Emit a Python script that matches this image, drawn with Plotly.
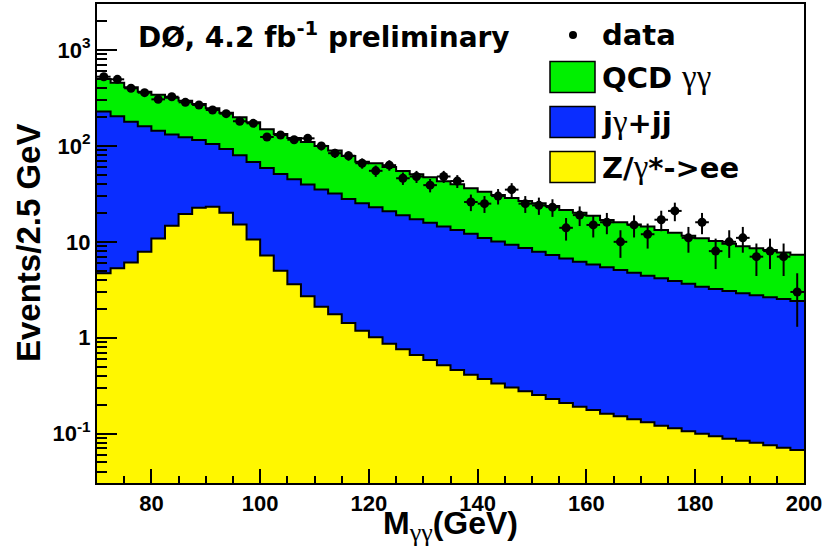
import numpy as np
import plotly.graph_objects as go

# ---- data ----
bin_lo = 70.0
bin_w = 2.5
n_bins = 52

data_counts = [527, 495, 399, 359, 306, 326, 285, 267, 237, 217, 181, 172, 124, 130, 116, 120,
               100, 84, 79, 66, 55, 63, 46, 48, 39, 48, 43, 26, 25, 30, 35, 25, 24, 23, 14, 19,
               15, 16, 10, 15, 12, 17, 21, 11, 16, 8, 10, 11, 7, 8, 7, 3]
data_err = [23.0, 22.2, 20.0, 18.9, 17.5, 18.1, 16.9, 16.3, 15.4, 14.7, 13.5, 13.1, 11.1, 11.4,
            10.8, 11.0, 10.0, 9.2, 8.9, 8.1, 7.4, 7.9, 6.8, 6.9, 6.2, 6.9, 6.6, 5.1, 5.0, 5.5,
            5.9, 5.0, 4.9, 4.8, 3.7, 4.4, 3.9, 4.0, 3.2, 3.9, 3.5, 4.1, 4.6, 3.3, 4.0, 2.8, 3.2,
            3.3, 2.6, 2.8, 2.6, 1.7]

z_ee = [4.7, 5.3, 6.1, 7.9, 10.8, 14.7, 19.5, 22.7, 23.2, 20.1, 15.2, 10.6, 7.2, 5.0, 3.6, 2.7,
        2.1, 1.76, 1.42, 1.18, 1.01, 0.865, 0.756, 0.660, 0.585, 0.515, 0.460, 0.411, 0.371,
        0.334, 0.303, 0.276, 0.252, 0.230, 0.209, 0.191, 0.176, 0.161, 0.152, 0.141, 0.131,
        0.121, 0.114, 0.106, 0.0998, 0.0937, 0.0885, 0.0843, 0.0804, 0.0755, 0.0713, 0.0675]

jg_jj = [223.3, 198.7, 172.9, 152.1, 133.2, 116.8, 103.5, 92.3, 81.8, 72.9, 64.8, 57.4, 51.8,
         46.0, 41.4, 36.9, 33.1, 30.1, 26.5, 24.0, 21.9, 20.0, 18.2, 16.5, 15.2, 13.9, 12.8,
         11.7, 10.6, 9.77, 9.00, 8.32, 7.65, 7.07, 6.51, 6.01, 5.64, 5.26, 4.93, 4.62, 4.30,
         4.04, 3.79, 3.55, 3.30, 3.13, 2.98, 2.82, 2.69, 2.56, 2.46, 2.35]

qcd_gg = [271, 252, 229, 207, 198, 186.5, 173, 158, 142, 129, 119, 109, 90, 82, 76, 70.4, 64.6,
          57.6, 50.6, 43.3, 43.0, 39.4, 35.7, 33.4, 31.3, 28.4, 26.5, 24.0, 22.3, 20.7, 19.3,
          18.0, 17.3, 16.3, 14.8, 13.9, 12.9, 11.5, 10.9, 10.4, 10.0, 9.1, 8.5, 7.9, 7.5, 7.0,
          6.5, 6.1, 5.8, 5.6, 5.2, 4.9]

y_tickvals = [0.1, 1, 10, 100, 1000]
y_ticktext = ["10<sup>-1</sup>", "1", "10", "10<sup>2</sup>", "10<sup>3</sup>"]

# ---- derived ----
edges = bin_lo + bin_w * np.arange(n_bins + 1)
centers = edges[:-1] + bin_w / 2
cum_z = np.array(z_ee)
cum_jg = cum_z + np.array(jg_jj)
cum_tot = cum_jg + np.array(qcd_gg)


def step_y(vals):
    v = list(vals)
    return v + [v[-1]]


GREEN = "#00f000"
BLUE = "#0a2dff"
YELLOW = "#fff700"
FONT = "Liberation Sans"
LFONT = "DejaVu Sans"
GAM = "<span style=\"font-family:'Liberation Serif';font-weight:normal;font-size:%dpx\">%s</span>"

fig = go.Figure()
# invisible baseline below the axis range
fig.add_trace(go.Scatter(x=edges, y=[1e-3] * (n_bins + 1), mode="lines",
                         line=dict(width=0, shape="hv"), showlegend=False, hoverinfo="skip"))
for cum, col in [(cum_z, YELLOW), (cum_jg, BLUE), (cum_tot, GREEN)]:
    fig.add_trace(go.Scatter(x=edges, y=step_y(cum), mode="lines",
                             line=dict(color="black", width=2, shape="hv"),
                             fill="tonexty", fillcolor=col, showlegend=False))

fig.add_trace(go.Scatter(
    x=centers, y=data_counts, mode="markers",
    marker=dict(color="black", size=9, symbol="circle"),
    error_y=dict(type="data", array=data_err, visible=True, color="black", thickness=2, width=0),
    error_x=dict(type="constant", value=bin_w / 2, visible=True, color="black", thickness=2, width=0),
    showlegend=False))

W, H = 827, 548
L, R, T, B = 97, 23, 4, 65


def px(x):
    return (x - L) / (W - L - R)


def py(y):
    return (H - B - y) / (H - T - B)


minor_y = [k * 10.0 ** d for d in range(-2, 4) for k in range(2, 10)]

fig.update_layout(
    width=W, height=H,
    margin=dict(l=L, r=R, t=T, b=B, autoexpand=False),
    paper_bgcolor="white", plot_bgcolor="white",
    showlegend=False,
    font=dict(family=FONT, color="black"),
    xaxis=dict(range=[70, 200], showgrid=False, zeroline=False, automargin=False,
               showline=True, mirror=True, linewidth=2, linecolor="black",
               ticks="inside", ticklen=14, tickwidth=2, tickcolor="black",
               tickmode="linear", tick0=0, dtick=20,
               tickfont=dict(family=FONT, size=22, color="black", weight="bold"),
               minor=dict(ticks="inside", ticklen=7, tickwidth=2, tickcolor="black",
                          tick0=0, dtick=5, showgrid=False)),
    yaxis=dict(type="log", range=[-1.515, 3.48], showgrid=False, zeroline=False, automargin=False,
               showline=True, mirror=True, linewidth=2, linecolor="black",
               ticks="inside", ticklen=20, tickwidth=2, tickcolor="black",
               tickmode="array", tickvals=y_tickvals, ticktext=y_ticktext,
               tickfont=dict(family=FONT, size=22, color="black", weight="bold"),
               minor=dict(ticks="inside", ticklen=10, tickwidth=2, tickcolor="black",
                          tickmode="array", tickvals=minor_y, showgrid=False)),
)

ann = []
# axis titles
ann.append(dict(text="Events/2.5 GeV", x=px(28), y=py(243), xref="paper", yref="paper",
                textangle=-90, showarrow=False, xanchor="center", yanchor="middle",
                font=dict(family=FONT, size=33, color="black", weight="bold")))
ann.append(dict(text="M<sub>" + GAM % (26, "γγ") + "</sub>(GeV)",
                x=px(450), y=py(526), xref="paper", yref="paper",
                showarrow=False, xanchor="center", yanchor="middle",
                font=dict(family=FONT, size=32, color="black", weight="bold")))
# header
ann.append(dict(text="DØ, 4.2 fb<sup>-1</sup> preliminary", x=px(136), y=py(35),
                xref="paper", yref="paper", showarrow=False, xanchor="left", yanchor="middle",
                font=dict(family=LFONT, size=28, color="black", weight="bold")))

# legend
leg_labels = ["data",
              "QCD " + GAM % (33, "γγ"),
              "j" + GAM % (33, "γ") + "+jj",
              "Z/" + GAM % (33, "γ") + "*->ee"]
leg_y = [35, 77, 122, 167]
for lab, yy in zip(leg_labels, leg_y):
    ann.append(dict(text=lab, x=px(600), y=py(yy), xref="paper", yref="paper",
                    showarrow=False, xanchor="left", yanchor="middle",
                    font=dict(family=LFONT, size=29, color="black", weight="bold")))

shapes = []
shapes.append(dict(type="circle", xref="paper", yref="paper",
                   x0=px(569), x1=px(577), y0=py(39), y1=py(31),
                   fillcolor="black", line=dict(color="black", width=0)))
for yy, col in zip(leg_y[1:], [GREEN, BLUE, YELLOW]):
    shapes.append(dict(type="rect", xref="paper", yref="paper",
                       x0=px(550), x1=px(595), y0=py(yy + 15.5), y1=py(yy - 15.5),
                       fillcolor=col, line=dict(color="black", width=1.5)))

fig.update_layout(annotations=ann, shapes=shapes)
fig.write_html("out.html", config={"displayModeBar": False},
               post_script="document.body.style.margin='0';document.body.style.overflow='hidden';")
